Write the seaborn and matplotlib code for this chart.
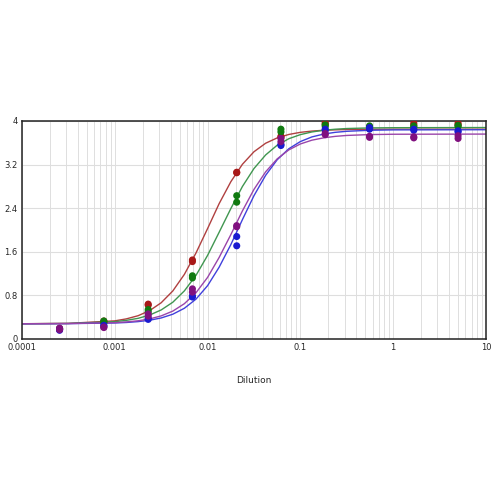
import pandas as pd
import matplotlib.pyplot as plt
import seaborn as sns
import numpy as np
from matplotlib.ticker import FixedLocator, LogLocator, NullFormatter

# dilution steps (3-fold series)
dilutions = [0.000254, 0.000762, 0.00229, 0.00686, 0.0206, 0.0617, 0.185, 0.556, 1.667, 5.0]

# measured OD, two replicates per series
red_rep1 = [0.19, 0.33, 0.64, 1.45, 3.06, 3.72, 3.97, 3.88, 3.96, 3.96]
red_rep2 = [0.18, 0.31, 0.62, 1.42, 3.05, 3.70, 3.94, 3.86, 3.93, 3.93]
green_rep1 = [0.19, 0.33, 0.54, 1.16, 2.63, 3.85, 3.93, 3.91, 3.91, 3.92]
green_rep2 = [0.18, 0.30, 0.50, 1.12, 2.51, 3.80, 3.90, 3.89, 3.89, 3.90]
blue_rep1 = [0.18, 0.25, 0.38, 0.79, 1.88, 3.57, 3.85, 3.88, 3.85, 3.82]
blue_rep2 = [0.16, 0.24, 0.36, 0.77, 1.71, 3.55, 3.83, 3.85, 3.83, 3.80]
purple_rep1 = [0.20, 0.22, 0.46, 0.92, 2.08, 3.68, 3.77, 3.72, 3.71, 3.73]
purple_rep2 = [0.17, 0.21, 0.42, 0.86, 2.06, 3.62, 3.75, 3.70, 3.69, 3.68]

# fitted curves at these dilutions
curve_x = [0.0001, 0.000316, 0.001, 0.00133, 0.00178, 0.00237, 0.00316, 0.00422, 0.00562,
           0.0075, 0.01, 0.0133, 0.0178, 0.0237, 0.0316, 0.0422, 0.0562, 0.075, 0.1, 0.133,
           0.178, 0.237, 0.316, 0.562, 1.0, 10.0]
red_curve = [0.28, 0.287, 0.333, 0.369, 0.427, 0.520, 0.665, 0.882, 1.186, 1.579, 2.027,
             2.482, 2.886, 3.205, 3.436, 3.592, 3.69, 3.753, 3.792, 3.815, 3.83, 3.838,
             3.843, 3.848, 3.85, 3.85]
green_curve = [0.28, 0.285, 0.318, 0.342, 0.379, 0.439, 0.533, 0.675, 0.883, 1.168, 1.535,
               1.957, 2.393, 2.797, 3.128, 3.377, 3.556, 3.675, 3.75, 3.799, 3.83, 3.849,
               3.862, 3.873, 3.877, 3.88]
blue_curve = [0.28, 0.282, 0.294, 0.303, 0.319, 0.344, 0.386, 0.455, 0.564, 0.732, 0.979,
              1.316, 1.732, 2.189, 2.63, 3.003, 3.289, 3.491, 3.623, 3.708, 3.76, 3.792,
              3.811, 3.83, 3.837, 3.84]
purple_curve = [0.28, 0.283, 0.300, 0.313, 0.334, 0.368, 0.424, 0.512, 0.648, 0.849, 1.131,
                1.495, 1.915, 2.349, 2.745, 3.067, 3.305, 3.47, 3.579, 3.648, 3.691, 3.718,
                3.735, 3.751, 3.757, 3.76]

series = ['red', 'green', 'blue', 'purple']
point_colors = {'red': '#a81818', 'green': '#107a10', 'blue': '#1a1ad0', 'purple': '#80107f'}
line_colors = {'red': '#b04040', 'green': '#409650', 'blue': '#4040dc', 'purple': '#9a45aa'}

points = pd.concat([
    pd.DataFrame({'Dilution': dilutions * 2, 'OD': r1 + r2, 'series': name})
    for name, r1, r2 in [('red', red_rep1, red_rep2), ('green', green_rep1, green_rep2),
                         ('blue', blue_rep1, blue_rep2), ('purple', purple_rep1, purple_rep2)]
])
curves = pd.concat([
    pd.DataFrame({'Dilution': curve_x, 'OD': c, 'series': name})
    for name, c in [('red', red_curve), ('green', green_curve),
                    ('blue', blue_curve), ('purple', purple_curve)]
])

sns.set_style('white')
fig = plt.figure(figsize=(5, 5), dpi=100)
ax = fig.add_axes([0.044, 0.322, 0.928, 0.436])

ax.set_xscale('log')
ax.set_xlim(0.0001, 10)
ax.set_ylim(0, 4)

sns.lineplot(data=curves, x='Dilution', y='OD', hue='series', hue_order=series,
             palette=line_colors, linewidth=1.0, sort=True, legend=False, ax=ax, zorder=2)
sns.scatterplot(data=points, x='Dilution', y='OD', hue='series', hue_order=series,
                palette=point_colors, s=26, edgecolor='none', legend=False, ax=ax, zorder=3)

ax.xaxis.set_major_locator(FixedLocator([0.0001, 0.001, 0.01, 0.1, 1, 10]))
ax.set_xticklabels(['0.0001', '0.001', '0.01', '0.1', '1', '10'])
ax.xaxis.set_minor_locator(LogLocator(base=10, subs=np.arange(2, 10)))
ax.xaxis.set_minor_formatter(NullFormatter())
ax.set_yticks([0, 0.8, 1.6, 2.4, 3.2, 4])
ax.set_yticklabels(['0', '0.8', '1.6', '2.4', '3.2', '4'])

ax.grid(True, which='both', axis='x', color='#dedede', linewidth=0.7)
ax.grid(True, which='major', axis='y', color='#dedede', linewidth=0.8)
ax.set_axisbelow(True)
ax.tick_params(axis='both', which='both', length=0, labelsize=6, pad=3)

for s in ax.spines.values():
    s.set_color('#222222')
    s.set_linewidth(1.1)

ax.set_xlabel('Dilution', fontsize=6.5, labelpad=17)
ax.set_ylabel('')

fig.savefig('out.png', dpi=100, facecolor='white')
